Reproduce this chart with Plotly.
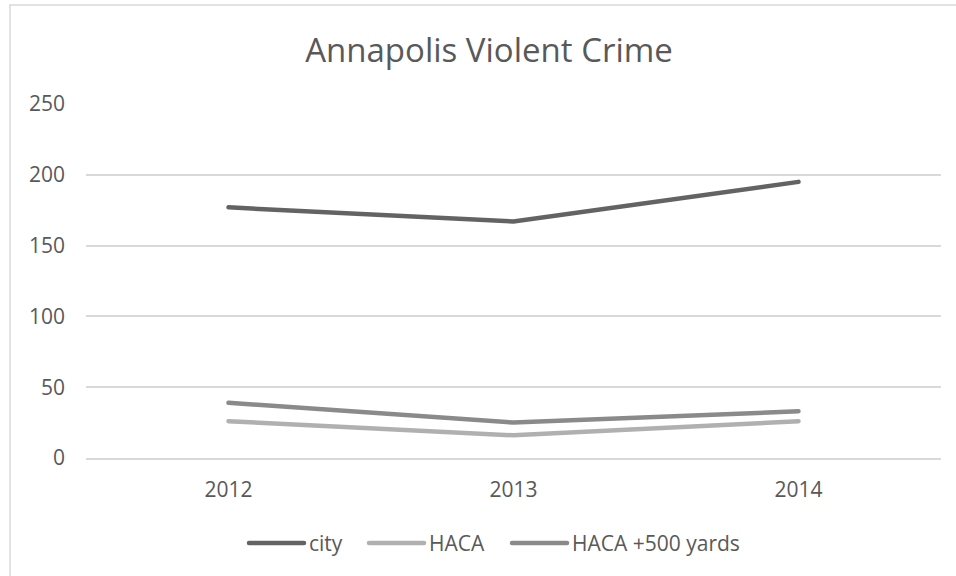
import plotly.graph_objects as go

years = ["2012", "2013", "2014"]
city = [177, 167, 195]
haca = [26, 16, 26]
haca_500 = [39, 25, 33]
series_names = ["city", "HACA", "HACA +500 yards"]
y_ticks = [0, 50, 100, 150, 200, 250]

colors = ["#636363", "#B0B0B0", "#8A8A8A"]
FONT = "Open Sans"
TXT = "#595959"

W, H = 956, 576
ML, MR, MT, MB = 86, 15, 104, 118
PW, PH = W - ML - MR, H - MT - MB


def px_x(px):
    return (px - ML) / PW


def px_y(py):
    return (H - MB - py) / PH


fig = go.Figure()
for name, vals, col in zip(series_names, [city, haca, haca_500], colors):
    fig.add_trace(go.Scatter(x=years, y=vals, name=name, mode="lines",
                             line=dict(color=col, width=4.5), showlegend=False))

shapes = [
    # chart border (left and top visible)
    dict(type="line", xref="paper", yref="paper", x0=px_x(10), x1=px_x(10),
         y0=px_y(5), y1=px_y(590), line=dict(color="#D9D9D9", width=1.5)),
    dict(type="line", xref="paper", yref="paper", x0=px_x(10), x1=px_x(970),
         y0=px_y(5), y1=px_y(5), line=dict(color="#D9D9D9", width=1.5)),
]
annotations = []
legend_starts = [249, 369, 512]
for name, col, x0 in zip(series_names, colors, legend_starts):
    shapes.append(dict(type="line", xref="paper", yref="paper",
                       x0=px_x(x0), x1=px_x(x0 + 55), y0=px_y(543), y1=px_y(543),
                       line=dict(color=col, width=4.5)))
    annotations.append(dict(text=name, xref="paper", yref="paper",
                            x=px_x(x0 + 58), y=px_y(543), xanchor="left",
                            yanchor="middle", showarrow=False,
                            font=dict(family=FONT, size=21, color=TXT)))

fig.update_layout(
    width=W, height=H,
    margin=dict(l=ML, r=MR, t=MT, b=MB),
    paper_bgcolor="white", plot_bgcolor="white",
    title=dict(text="Annapolis Violent Crime", x=489 / W, xanchor="center",
               y=1 - 50 / H, yanchor="middle", yref="container",
               font=dict(family=FONT, size=33, color=TXT)),
    xaxis=dict(type="category", showgrid=False, showline=True,
               linecolor="#D9D9D9", linewidth=1.5, ticks="",
               tickfont=dict(family=FONT, size=21, color=TXT),
               ticklabelstandoff=12, range=[-0.5, 2.5]),
    yaxis=dict(range=[0, 250], tickvals=y_ticks, showgrid=True,
               gridcolor="#D9D9D9", gridwidth=1.5, zeroline=False,
               showline=False, ticks="",
               tickfont=dict(family=FONT, size=21, color=TXT),
               ticklabelstandoff=20),
    shapes=shapes, annotations=annotations,
    font=dict(family=FONT),
)

post = (
    "document.body.style.margin='0';"
    "document.body.style.overflow='hidden';"
    "var s=document.createElement('style');"
    "s.textContent='.scatterlayer path.js-line, .shapelayer path{stroke-linecap:round;}';"
    "document.head.appendChild(s);"
)

fig.write_html("out.html", config={"displayModeBar": False}, post_script=post)
